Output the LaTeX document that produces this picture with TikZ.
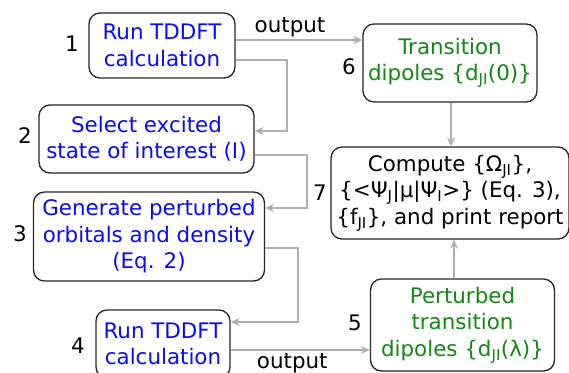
\documentclass[tikz,border=0pt]{standalone}
\usepackage{fontspec}
\setmainfont{DejaVu Sans}
\usetikzlibrary{arrows.meta,calc}
\definecolor{tblue}{RGB}{10,10,245}
\definecolor{tgreen}{RGB}{20,135,20}
\definecolor{agray}{RGB}{175,175,175}
\begin{document}
\begin{tikzpicture}[x=1pt,y=-1pt,
  box/.style={draw=black!85,line width=1.3pt,rounded corners=11pt,inner sep=0pt,align=center,
    font=\fontsize{21.4}{26.5}\selectfont},
  num/.style={inner sep=0pt,font=\fontsize{21.4}{26}\selectfont},
  lbl/.style={inner sep=0pt,font=\fontsize{21.4}{26}\selectfont},
  arr/.style={draw=agray,line width=1.4pt,-{Stealth[length=9pt,width=8pt,inset=3pt]}}]
\useasboundingbox (0,0) rectangle (569,372);
\node[box,text=tblue,minimum width=146pt,minimum height=65pt] (b1) at (162,45.5) {Run TDDFT\\calculation};
\node[box,text=tblue,minimum width=215pt,minimum height=68pt] (b2) at (146.5,139) {Select excited\\state of interest (I)};
\node[box,text=tblue,minimum width=231pt,minimum height=89pt] (b3) at (149,236.5) {Generate perturbed\\orbitals and density\\(Eq. 2)};
\node[box,text=tblue,minimum width=134pt,minimum height=68pt] (b4) at (163,344) {Run TDDFT\\calculation};
\node[box,text=tgreen,minimum width=184pt,minimum height=92pt] (b5) at (462.5,325) {Perturbed\\transition\\dipoles \{d\textsubscript{JI}(λ)\}};
\node[box,text=tgreen,minimum width=174pt,minimum height=78pt] (b6) at (450,63) {Transition\\dipoles \{d\textsubscript{JI}(0)\}};
\node[box,text=black,minimum width=238pt,minimum height=92pt] (b7) at (450,193) {Compute \{Ω\textsubscript{JI}\},\\\{<Ψ\textsubscript{J}|μ|Ψ\textsubscript{I}>\} (Eq. 3),\\\{f\textsubscript{JI}\}, and print report};
\node[num] (n1) at (72,43.5) {1};
\node[num] (n2) at (25,136) {2};
\node[num] (n3) at (20,234) {3};
\node[num] (n4) at (78,346) {4};
\node[num] (n5) at (355,323) {5};
\node[num] (n6) at (349,67) {6};
\node[num] (n7) at (320,193) {7};
\coordinate (k1) at (287,60);
\coordinate (k2) at (307,155);
\coordinate (k3) at (298,248);
\draw[arr] (b1.east |- 0,40) -- (b6.west |- 0,40) node[lbl,midway,above=2pt,xshift=-9pt] (o1) {output};
\draw[arr] (b1.east |- k1) -- (k1) |- (b2.east |- 0,131);
\draw[arr] (b2.east |- k2) -- (k2) |- (b3.east |- 0,208);
\draw[arr] (b3.east |- k3) -- (k3) |- (b4.east |- 0,322);
\draw[arr] (b4.east |- 0,350) -- (b5.west |- 0,350) node[lbl,midway,below=3pt,xshift=-8pt] (o2) {output};
\draw[arr] (b6.south -| 451,0) -- (b7.north -| 451,0);
\draw[arr] (b5.north -| 454,0) -- (b7.south -| 454,0);
\end{tikzpicture}
\end{document}
